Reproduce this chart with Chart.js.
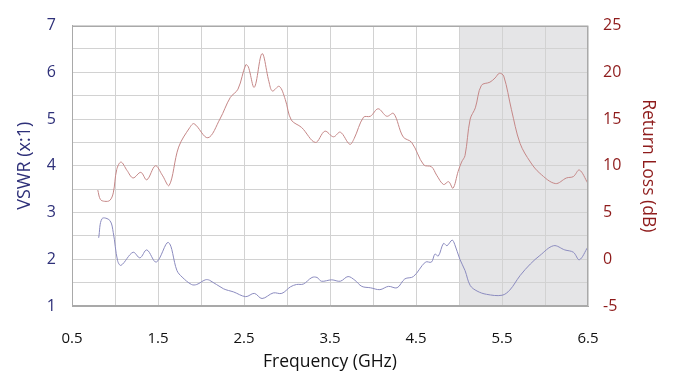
<!DOCTYPE html>
<html>
<head>
<meta charset="utf-8">
<script src="https://cdn.jsdelivr.net/npm/chart.js@4/dist/chart.umd.min.js"></script>
<style>
html,body{margin:0;padding:0;background:#fff;}
canvas{display:block;}
</style>
</head>
<body>
<canvas id="c" width="673" height="386"></canvas>
<script>
// Return loss (dB) trace — right axis
const rlFreq = [0.80,0.83,0.88,0.94,0.98,1.02,1.07,1.14,1.21,1.30,1.37,1.47,1.55,1.63,1.74,1.87,1.92,2.08,2.22,2.34,2.43,2.52,2.55,2.62,2.71,2.79,2.83,2.91,2.98,3.05,3.17,3.33,3.44,3.54,3.62,3.73,3.78,3.89,3.97,4.06,4.16,4.24,4.35,4.45,4.59,4.68,4.74,4.82,4.88,4.93,4.99,5.03,5.07,5.13,5.19,5.26,5.36,5.42,5.47,5.52,5.61,5.71,5.83,5.94,6.12,6.25,6.33,6.40,6.50];
const rlValues = [7.4,6.4,6.2,6.3,7.1,9.6,10.4,9.5,8.7,9.3,8.5,10.0,9.0,7.9,12.0,14.1,14.5,13.0,15.0,17.3,18.2,20.8,20.6,18.4,22.0,19.0,18.0,18.5,17.1,14.9,14.1,12.5,13.7,13.1,13.6,12.3,12.9,15.2,15.3,16.1,15.3,15.6,13.1,12.5,10.1,9.9,9.0,8.0,8.3,7.6,9.4,10.4,11.1,15.0,16.2,18.6,18.95,19.4,19.9,19.6,16.0,12.4,10.4,9.2,8.1,8.7,8.85,9.55,8.1];

// VSWR trace — left axis
const vswrFreq = [0.81,0.85,0.94,0.98,1.03,1.07,1.21,1.29,1.37,1.48,1.62,1.72,1.78,1.89,1.95,2.05,2.10,2.26,2.38,2.52,2.62,2.71,2.84,2.94,3.04,3.11,3.19,3.29,3.35,3.40,3.52,3.62,3.71,3.79,3.87,3.97,4.08,4.18,4.28,4.37,4.47,4.61,4.68,4.72,4.76,4.82,4.86,4.92,4.95,5.01,5.07,5.13,5.21,5.32,5.50,5.59,5.71,5.83,5.94,6.10,6.23,6.33,6.40,6.50];
const vswrValues = [2.46,2.87,2.83,2.57,1.97,1.87,2.15,2.03,2.20,1.94,2.36,1.76,1.62,1.46,1.46,1.56,1.55,1.37,1.30,1.20,1.27,1.16,1.28,1.27,1.41,1.46,1.47,1.61,1.61,1.53,1.56,1.53,1.63,1.55,1.42,1.39,1.35,1.42,1.39,1.58,1.63,1.94,1.94,2.11,2.07,2.34,2.29,2.41,2.32,2.00,1.76,1.44,1.32,1.25,1.23,1.34,1.65,1.90,2.08,2.29,2.20,2.15,1.99,2.27];

// Axis ranges and tick labels
const freqRange = [0.5, 6.5];
const vswrRange = [1, 7];
const rlRange = [-5, 25];
const shadeBand = [5.0, 6.5];

const FONT = '"Open Sans", sans-serif';
const NAVY = '#2e3079';
const DARKRED = '#8e1b1b';

const toPts = (xs, ys) => xs.map((x, i) => ({x: x, y: ys[i]}));

const shadePlugin = {
  id: 'shade',
  beforeDraw(chart) {
    const {ctx, chartArea, scales} = chart;
    const x0 = scales.x.getPixelForValue(shadeBand[0]);
    const x1 = scales.x.getPixelForValue(shadeBand[1]);
    ctx.save();
    ctx.fillStyle = '#e5e5e7';
    ctx.fillRect(x0, chartArea.top, x1 - x0, chartArea.bottom - chartArea.top);
    ctx.restore();
  },
  afterDraw(chart) {
    const {ctx, chartArea} = chart;
    ctx.save();
    ctx.strokeStyle = '#a9a9a9';
    ctx.lineWidth = 1;
    ctx.strokeRect(Math.round(chartArea.left) + 0.5, Math.round(chartArea.top) + 0.5,
      Math.round(chartArea.right - chartArea.left) - 1, Math.round(chartArea.bottom - chartArea.top) - 1);
    ctx.restore();
  }
};

new Chart(document.getElementById('c'), {
  type: 'line',
  data: {
    datasets: [
      {
        label: 'Return Loss',
        data: toPts(rlFreq, rlValues),
        yAxisID: 'yR',
        borderColor: '#c58787',
        borderWidth: 1,
        pointRadius: 0,
        tension: 0.35,
        fill: false
      },
      {
        label: 'VSWR',
        data: toPts(vswrFreq, vswrValues),
        yAxisID: 'y',
        borderColor: '#8b8bbf',
        borderWidth: 1,
        pointRadius: 0,
        tension: 0.35,
        fill: false
      }
    ]
  },
  options: {
    responsive: false,
    animation: false,
    layout: {padding: {top: 22, left: 0, right: 0, bottom: 0}},
    plugins: {legend: {display: false}, tooltip: {enabled: false}},
    scales: {
      x: {
        type: 'linear',
        min: freqRange[0], max: freqRange[1],
        ticks: {
          stepSize: 0.5,
          padding: 24,
          color: '#111',
          font: {family: FONT, size: 15},
          maxRotation: 0,
          autoSkip: false,
          callback: (v) => Math.abs(((v - 0.5) % 1)) < 1e-6 ? v.toFixed(1) : ''
        },
        grid: {color: '#d2d2d2', drawTicks: false},
        border: {color: '#a9a9a9'},
        title: {display: true, text: 'Frequency (GHz)', color: '#111', font: {family: FONT, size: 17.5}, padding: {top: 0, bottom: 13.5}},
        afterFit: (s) => { s.height = 80; }
      },
      y: {
        position: 'left',
        min: vswrRange[0], max: vswrRange[1],
        ticks: {
          stepSize: 0.5,
          padding: 16,
          color: NAVY,
          font: {family: FONT, size: 16},
          autoSkip: false,
          callback: (v) => Number.isInteger(v) ? String(v) : ''
        },
        grid: {color: '#d2d2d2', drawTicks: false},
        border: {color: '#a9a9a9'},
        title: {display: true, text: 'VSWR (x:1)', color: NAVY, font: {family: FONT, size: 18}, padding: {top: 14, bottom: 0}},
        afterFit: (s) => { s.width = 72; }
      },
      yR: {
        position: 'right',
        min: rlRange[0], max: rlRange[1],
        ticks: {
          stepSize: 5,
          padding: 15,
          color: DARKRED,
          font: {family: FONT, size: 16}
        },
        grid: {drawOnChartArea: false, drawTicks: false},
        border: {display: false},
        title: {display: true, text: 'Return Loss (dB)', color: DARKRED, font: {family: FONT, size: 17.5}, padding: {top: 15, bottom: 0}},
        afterFit: (s) => { s.width = 85; }
      }
    }
  },
  plugins: [shadePlugin]
});
</script>
</body>
</html>
